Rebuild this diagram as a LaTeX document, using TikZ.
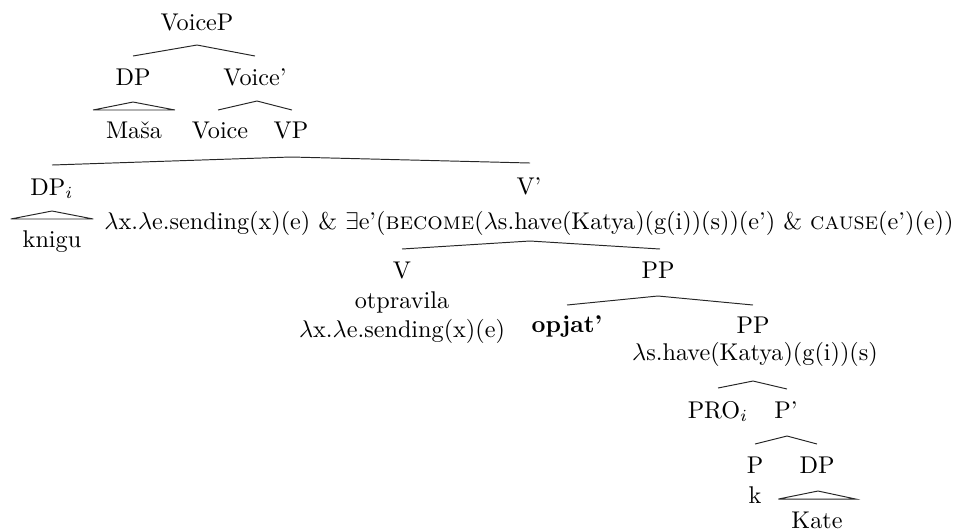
\documentclass[tikz,border=0pt]{standalone}
\usetikzlibrary{calc}
\begin{document}
\begin{tikzpicture}[x=0.4132pt,y=-0.4132pt,
  lbl/.style={anchor=base,inner sep=0pt,outer sep=0pt,font=\normalsize},
  edge/.style={line width=0.4pt,black!85}]
\useasboundingbox (0,0) rectangle (953,531);
% labels
\node[lbl] (VoiceP) at (197,30) {VoiceP};
\node[lbl] (DPa) at (133,85) {DP};
\node[lbl] (Voicebar) at (255,85) {Voice'};
\node[lbl] (Masa) at (134,138) {Maša};
\node[lbl] (Voice) at (220,138) {Voice};
\node[lbl] (VP) at (291,138) {VP};
\node[lbl] (DPi) at (52,195) {DP$_i$};
\node[lbl] (knigu) at (52,247) {knigu};
\node[lbl] (Vbar) at (529,194) {V'};
\node[lbl] (form) at (529,229) {$\lambda$x.$\lambda$e.sending(x)(e) \& $\exists$e'(\textsc{become}($\lambda$s.have(Katya)(g(i))(s))(e') \& \textsc{cause}(e')(e))};
\node[lbl] (V) at (402,278) {V};
\node[lbl] (otpr) at (402,308) {otpravila};
\node[lbl] (vsem) at (402,337) {$\lambda$x.$\lambda$e.sending(x)(e)};
\node[lbl] (PPa) at (658,278) {PP};
\node[lbl] (opjat) at (567,332) {\textbf{opjat'}};
\node[lbl] (PPb) at (753,333) {PP};
\node[lbl] (ssem) at (755,360) {$\lambda$s.have(Katya)(g(i))(s)};
\node[lbl] (PRO) at (718,418) {PRO$_i$};
\node[lbl] (Pbar) at (786,418) {P'};
\node[lbl] (P) at (755,473) {P};
\node[lbl] (k) at (755,503) {k};
\node[lbl] (DPc) at (817,473) {DP};
\node[lbl] (Kate) at (817,528) {Kate};
% edges
\draw[edge] ($(DPa.base)+(0,-29)$) -- ($(VoiceP.base)+(0,15)$) -- ($(Voicebar.base)+(0,-29)$);
\draw[edge] ($(Masa.base west)+(-13,-28)$) -- ($(DPa.base)+(0,17)$) -- ($(Masa.base east)+(13,-28)$) -- cycle;
\draw[edge] ($(Voice.base)+(-2,-28)$) -- ($(Voicebar.base)+(2,16)$) -- ($(VP.base)+(1,-28)$);
\draw[edge] ($(DPi.base)+(0,-30)$) -- ($(VP.base)+(0,19)$) -- ($(Vbar.base)+(1,-31)$);
\draw[edge] ($(knigu.base west)+(-12,-28)$) -- ($(DPi.base)+(0,16)$) -- ($(knigu.base east)+(12,-28)$) -- cycle;
\draw[edge] ($(V.base)+(0,-29)$) -- ($(form.base)+(1,12)$) -- ($(PPa.base)+(2,-29)$);
\draw[edge] ($(opjat.base)+(0,-27)$) -- ($(PPa.base)+(0,18)$) -- ($(PPb.base)+(0,-28)$);
\draw[edge] ($(PRO.base)+(0,-30)$) -- ($(ssem.base)+(-2,21)$) -- ($(Pbar.base)+(1,-29)$);
\draw[edge] ($(P.base)+(0,-29)$) -- ($(Pbar.base)+(1,18)$) -- ($(DPc.base)+(0,-29)$);
\draw[edge] ($(Kate.base west)+(-13,-29)$) -- ($(DPc.base)+(1,18)$) -- ($(Kate.base east)+(13,-29)$) -- cycle;
\end{tikzpicture}
\end{document}
